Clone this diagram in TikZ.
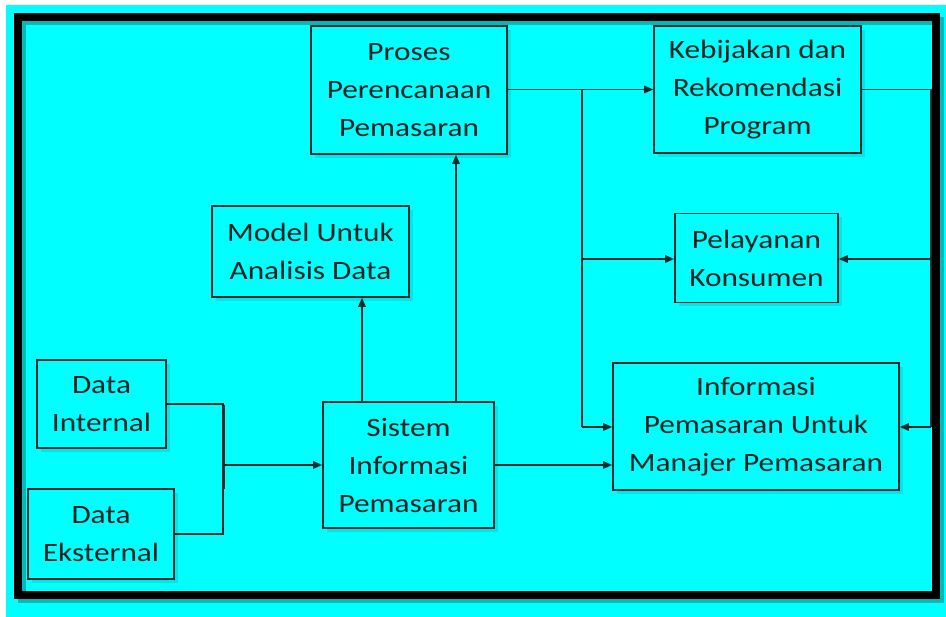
\documentclass[tikz,border=0pt]{standalone}
\usepackage{fontspec}
\setmainfont{Carlito}[FakeStretch=1.18]
\usetikzlibrary{arrows.meta,shadows}
\definecolor{bgcyan}{RGB}{0,255,255}
\definecolor{shadecyan}{RGB}{0,185,185}
\definecolor{linecol}{RGB}{15,45,45}
\definecolor{txtcol}{RGB}{15,35,35}
\tikzset{
  box/.style={draw=linecol, line width=1.6pt, fill=bgcyan, align=center,
    text=txtcol, font=\fontsize{26.5}{38}\selectfont, inner sep=0pt,
    general shadow={fill=shadecyan, opacity=0.35, shadow xshift=4pt, shadow yshift=-4pt}},
  conn/.style={draw=linecol, line width=1.6pt},
  arr/.style={conn, -{Triangle[length=9pt,width=7.5pt]}}
}
\begin{document}
\begin{tikzpicture}[x=1pt,y=-1pt]
\useasboundingbox (0,0) rectangle (946,617);
\fill[white] (0,0) rectangle (946,617);
\fill[bgcyan] (6,5) rectangle (946,617);
\draw[shadecyan, line width=8pt] (22,21) rectangle (940,599);
\draw[black, line width=8pt] (18,17) rectangle (936,595);

\node[box, minimum width=196pt, minimum height=128pt] (P) at (409,90) {Proses\\Perencanaan\\Pemasaran};
\node[box, minimum width=207pt, minimum height=127pt] (K) at (757.5,89.5) {Kebijakan dan\\Rekomendasi\\Program};
\node[box, minimum width=163pt, minimum height=89pt] (L) at (756.5,258) {Pelayanan\\Konsumen};
\node[box, minimum width=197pt, minimum height=91pt] (M) at (310.5,251.5) {Model Untuk\\Analisis Data};
\node[box, minimum width=129pt, minimum height=88pt] (DI) at (101.5,404) {Data\\Internal};
\node[box, minimum width=146pt, minimum height=90pt] (DE) at (101,534) {Data\\Eksternal};
\node[box, minimum width=171pt, minimum height=126pt] (S) at (408.5,465) {Sistem\\Informasi\\Pemasaran};
\node[box, minimum width=286pt, minimum height=127pt] (I) at (756,426.5) {Informasi\\Pemasaran Untuk\\Manajer Pemasaran};

\coordinate (j1) at (223,465);
\coordinate (xm) at (362,0);
\coordinate (xp) at (456,0);
\coordinate (b1) at (582,90);
\coordinate (b2) at (582,427);
\coordinate (r1) at (931,89.5);
\coordinate (r2) at (931,427);
\coordinate (yl) at (0,259);

\draw[conn] (DI.east) -| (j1);
\draw[conn] (DE.east) -| (j1);
\draw[conn] (224.5,405) -- (224.5,489);
\draw[arr] (j1) -- (S.west |- j1);
\draw[arr] (S.north -| xm) -- (M.south -| xm);
\draw[arr] (S.north -| xp) -- (P.south -| xp);
\draw[arr] (S.east) -- (S.east -| I.west);
\draw[arr] (P.east |- K.west) -- (K.west);
\draw[conn] (b1) -- (b2);
\draw[arr] (b1 |- yl) -- (L.west |- yl);
\draw[arr] (b2) -- (I.west |- b2);
\draw[conn] (K.east) -- (r1) -- (r2);
\draw[arr] (r1 |- yl) -- (L.east |- yl);
\draw[arr] (r2) -- (I.east |- r2);
\end{tikzpicture}
\end{document}
